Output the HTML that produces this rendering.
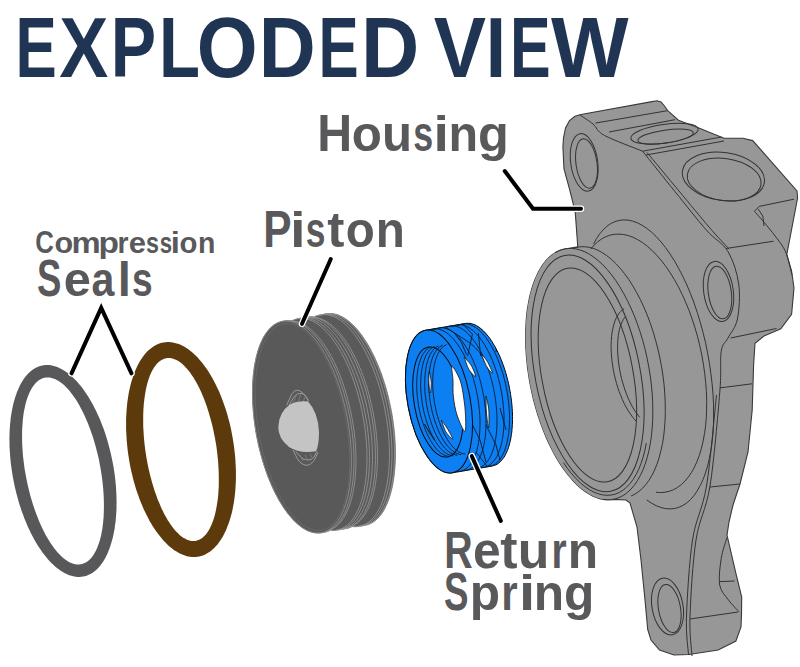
<!DOCTYPE html>
<html><head><meta charset="utf-8">
<style>
html,body{margin:0;padding:0;background:#fff;}
body{width:800px;height:667px;overflow:hidden;}
svg{display:block;}
text{font-family:"Liberation Sans",sans-serif;font-weight:bold;}
</style></head>
<body>
<svg width="800" height="667" viewBox="0 0 800 667">
<rect width="800" height="667" fill="#fff"/>
<text transform="translate(15.56 77.10) scale(0.7249 1.0000)" font-size="85.32" fill="#1f3553">E</text>
<text transform="translate(59.35 77.10) scale(0.8627 1.0000)" font-size="85.32" fill="#1f3553">X</text>
<text transform="translate(110.75 77.10) scale(0.7974 1.0000)" font-size="85.32" fill="#1f3553">P</text>
<text transform="translate(158.92 77.10) scale(0.7856 1.0000)" font-size="85.32" fill="#1f3553">L</text>
<text transform="translate(196.79 77.10) scale(0.9176 1.0000)" font-size="85.32" fill="#1f3553">O</text>
<text transform="translate(258.72 77.10) scale(0.9250 1.0000)" font-size="85.32" fill="#1f3553">D</text>
<text transform="translate(318.47 77.10) scale(0.7061 1.0000)" font-size="85.32" fill="#1f3553">E</text>
<text transform="translate(361.00 77.10) scale(0.9460 1.0000)" font-size="85.32" fill="#1f3553">D</text>
<text transform="translate(433.66 77.10) scale(0.9185 1.0000)" font-size="85.32" fill="#1f3553">V</text>
<text transform="translate(485.72 77.10) scale(0.8544 1.0000)" font-size="85.32" fill="#1f3553">I</text>
<text transform="translate(510.12 77.10) scale(0.7145 1.0000)" font-size="85.32" fill="#1f3553">E</text>
<text transform="translate(550.92 77.10) scale(0.9631 1.0000)" font-size="85.32" fill="#1f3553">W</text>
<text transform="translate(317.37 150.60) scale(0.9336 1.0000)" font-size="51.75" fill="#59595c">H</text>
<text transform="translate(351.83 150.60) scale(0.9523 0.9584)" font-size="51.75" fill="#59595c">o</text>
<text transform="translate(381.95 150.60) scale(0.9504 0.9584)" font-size="51.75" fill="#59595c">u</text>
<text transform="translate(413.34 150.60) scale(0.6925 0.9584)" font-size="51.75" fill="#59595c">s</text>
<text transform="translate(433.43 150.60) scale(1.0705 0.9584)" font-size="51.75" fill="#59595c">i</text>
<text transform="translate(448.61 150.60) scale(0.9364 0.9584)" font-size="51.75" fill="#59595c">n</text>
<text transform="translate(477.93 150.60) scale(0.9760 0.9584)" font-size="51.75" fill="#59595c">g</text>
<text transform="translate(263.16 247.00) scale(0.8105 1.0000)" font-size="52.33" fill="#59595c">P</text>
<text transform="translate(290.18 247.00) scale(1.0446 0.9658)" font-size="52.33" fill="#59595c">i</text>
<text transform="translate(305.75 247.00) scale(0.6769 0.9658)" font-size="52.33" fill="#59595c">s</text>
<text transform="translate(327.27 247.00) scale(0.9847 0.9658)" font-size="52.33" fill="#59595c">t</text>
<text transform="translate(345.74 247.00) scale(0.9076 0.9658)" font-size="52.33" fill="#59595c">o</text>
<text transform="translate(375.86 247.00) scale(0.9102 0.9658)" font-size="52.33" fill="#59595c">n</text>
<text transform="translate(35.19 253.10) scale(0.8364 1.0000)" font-size="30.81" fill="#59595c">C</text>
<text transform="translate(54.40 253.10) scale(0.9930 0.9582)" font-size="30.81" fill="#59595c">o</text>
<text transform="translate(71.59 253.10) scale(1.0658 0.9582)" font-size="30.81" fill="#59595c">m</text>
<text transform="translate(98.39 253.10) scale(1.0884 0.9582)" font-size="30.81" fill="#59595c">p</text>
<text transform="translate(117.54 253.10) scale(0.9164 0.9582)" font-size="30.81" fill="#59595c">r</text>
<text transform="translate(128.79 253.10) scale(1.0080 0.9582)" font-size="30.81" fill="#59595c">e</text>
<text transform="translate(146.08 253.10) scale(0.7573 0.9582)" font-size="30.81" fill="#59595c">s</text>
<text transform="translate(159.82 253.10) scale(0.7201 0.9582)" font-size="30.81" fill="#59595c">s</text>
<text transform="translate(170.71 253.10) scale(1.0643 0.9582)" font-size="30.81" fill="#59595c">i</text>
<text transform="translate(179.45 253.10) scale(0.9534 0.9582)" font-size="30.81" fill="#59595c">o</text>
<text transform="translate(198.12 253.10) scale(0.9240 0.9582)" font-size="30.81" fill="#59595c">n</text>
<text transform="translate(37.05 295.60) scale(0.7044 1.0000)" font-size="51.89" fill="#59595c">S</text>
<text transform="translate(63.85 295.60) scale(0.9398 0.9192)" font-size="51.89" fill="#59595c">e</text>
<text transform="translate(91.40 295.60) scale(0.7915 0.9192)" font-size="51.89" fill="#59595c">a</text>
<text transform="translate(117.69 295.60) scale(0.9130 0.9192)" font-size="51.89" fill="#59595c">l</text>
<text transform="translate(131.90 295.60) scale(0.7147 0.9192)" font-size="51.89" fill="#59595c">s</text>
<text transform="translate(444.37 568.00) scale(0.7654 1.0000)" font-size="51.45" fill="#59595c">R</text>
<text transform="translate(473.06 568.00) scale(0.9659 0.9932)" font-size="51.45" fill="#59595c">e</text>
<text transform="translate(500.37 568.00) scale(1.0077 0.9932)" font-size="51.45" fill="#59595c">t</text>
<text transform="translate(517.79 568.00) scale(1.0061 0.9932)" font-size="51.45" fill="#59595c">u</text>
<text transform="translate(551.43 568.00) scale(0.7569 0.9932)" font-size="51.45" fill="#59595c">r</text>
<text transform="translate(567.72 568.00) scale(0.9659 0.9932)" font-size="51.45" fill="#59595c">n</text>
<text transform="translate(443.94 610.00) scale(0.6903 1.0000)" font-size="53.20" fill="#59595c">S</text>
<text transform="translate(469.73 610.00) scale(0.9326 0.9251)" font-size="53.20" fill="#59595c">p</text>
<text transform="translate(501.22 610.00) scale(0.7931 0.9251)" font-size="53.20" fill="#59595c">r</text>
<text transform="translate(518.93 610.00) scale(1.0960 0.9251)" font-size="53.20" fill="#59595c">i</text>
<text transform="translate(533.72 610.00) scale(0.9342 0.9251)" font-size="53.20" fill="#59595c">n</text>
<text transform="translate(563.96 610.00) scale(0.9344 0.9251)" font-size="53.20" fill="#59595c">g</text>
<path d="M112.5 461.4 L113.2 465.1 L113.8 468.8 L114.4 472.5 L114.9 476.2 L115.3 480 L115.7 483.7 L116 487.3 L116.2 491 L116.4 494.6 L116.5 498.3 L116.6 501.8 L116.5 505.4 L116.5 508.9 L116.3 512.3 L116.1 515.7 L115.8 519.1 L115.5 522.3 L115 525.6 L114.6 528.7 L114 531.8 L113.4 534.8 L112.8 537.7 L112 540.6 L111.2 543.3 L110.4 546 L109.5 548.6 L108.5 551.1 L107.5 553.5 L106.4 555.8 L105.3 557.9 L104.1 560 L102.9 562 L101.6 563.8 L100.3 565.6 L98.9 567.2 L97.5 568.7 L96.1 570.1 L94.6 571.3 L93 572.5 L91.4 573.5 L89.8 574.3 L88.2 575.1 L86.5 575.7 L84.8 576.2 L83.1 576.6 L81.3 576.8 L79.5 577 L77.7 576.9 L75.9 576.8 L74.1 576.5 L72.3 576.1 L70.4 575.5 L68.5 574.9 L66.7 574.1 L64.8 573.2 L62.9 572.1 L61 570.9 L59.1 569.6 L57.3 568.2 L55.4 566.7 L53.6 565 L51.7 563.2 L49.9 561.4 L48.1 559.4 L46.3 557.2 L44.5 555 L42.7 552.7 L41 550.3 L39.3 547.8 L37.6 545.2 L36 542.5 L34.4 539.7 L32.8 536.8 L31.3 533.9 L29.8 530.8 L28.3 527.7 L26.9 524.5 L25.6 521.3 L24.2 518 L23 514.6 L21.7 511.2 L20.6 507.7 L19.4 504.2 L18.4 500.7 L17.4 497.1 L16.4 493.5 L15.5 489.8 L14.7 486.2 L13.9 482.5 L13.2 478.8 L12.5 475 L11.9 471.3 L11.4 467.6 L10.9 463.9 L10.5 460.2 L10.2 456.5 L9.9 452.8 L9.7 449.2 L9.5 445.5 L9.5 442 L9.4 438.4 L9.5 434.9 L9.6 431.4 L9.8 428 L10.1 424.6 L10.4 421.3 L10.7 418 L11.2 414.8 L11.7 411.7 L12.3 408.7 L12.9 405.7 L13.6 402.8 L14.4 400 L15.2 397.3 L16.1 394.7 L17 392.1 L18 389.7 L19 387.4 L20.1 385.1 L21.3 383 L22.5 381 L23.7 379.1 L25 377.3 L26.4 375.6 L27.8 374.1 L29.2 372.6 L30.7 371.3 L32.2 370.1 L33.8 369 L35.4 368.1 L37 367.3 L38.6 366.6 L40.3 366 L42.1 365.6 L43.8 365.3 L45.6 365.1 L47.4 365 L49.2 365.1 L51 365.3 L52.8 365.7 L54.7 366.2 L56.5 366.8 L58.4 367.5 L60.3 368.4 L62.2 369.4 L64 370.5 L65.9 371.7 L67.8 373.1 L69.7 374.5 L71.5 376.1 L73.4 377.9 L75.2 379.7 L77 381.6 L78.8 383.7 L80.6 385.8 L82.4 388.1 L84.1 390.5 L85.8 392.9 L87.5 395.5 L89.2 398.2 L90.8 400.9 L92.4 403.7 L94 406.7 L95.5 409.7 L96.9 412.7 L98.4 415.9 L99.8 419.1 L101.1 422.4 L102.4 425.7 L103.7 429.1 L104.9 432.5 L106 436 L107.1 439.5 L108.1 443.1 L109.1 446.7 L110 450.3 L110.9 454 L111.7 457.7 L112.5 461.4Z M99.7 463.9 L100.3 467.1 L100.9 470.4 L101.4 473.7 L101.9 477 L102.3 480.3 L102.7 483.5 L103 486.8 L103.3 490 L103.5 493.2 L103.7 496.4 L103.8 499.5 L103.9 502.6 L103.9 505.7 L103.9 508.7 L103.8 511.7 L103.7 514.6 L103.6 517.5 L103.3 520.3 L103.1 523.1 L102.7 525.8 L102.4 528.4 L101.9 531 L101.5 533.4 L101 535.8 L100.4 538.2 L99.8 540.4 L99.1 542.6 L98.4 544.6 L97.7 546.6 L96.9 548.5 L96.1 550.3 L95.2 552 L94.3 553.6 L93.4 555.1 L92.4 556.5 L91.4 557.7 L90.3 558.9 L89.2 560 L88.1 560.9 L87 561.8 L85.8 562.5 L84.6 563.1 L83.3 563.6 L82.1 564 L80.8 564.3 L79.5 564.5 L78.2 564.5 L76.8 564.5 L75.5 564.3 L74.1 564 L72.7 563.6 L71.3 563 L69.9 562.4 L68.5 561.7 L67 560.8 L65.6 559.8 L64.2 558.7 L62.7 557.5 L61.3 556.3 L59.9 554.8 L58.4 553.3 L57 551.7 L55.6 550 L54.2 548.2 L52.8 546.3 L51.4 544.3 L50 542.3 L48.7 540.1 L47.3 537.8 L46 535.5 L44.7 533.1 L43.4 530.6 L42.2 528 L41 525.4 L39.8 522.7 L38.6 519.9 L37.5 517.1 L36.4 514.2 L35.3 511.3 L34.2 508.3 L33.2 505.2 L32.3 502.2 L31.3 499 L30.4 495.9 L29.6 492.7 L28.8 489.5 L28 486.3 L27.3 483 L26.6 479.8 L26 476.5 L25.4 473.2 L24.8 469.9 L24.3 466.7 L23.9 463.4 L23.5 460.1 L23.1 456.9 L22.8 453.6 L22.6 450.4 L22.4 447.2 L22.2 444.1 L22.1 440.9 L22.1 437.8 L22.1 434.8 L22.1 431.8 L22.2 428.8 L22.4 425.9 L22.6 423.1 L22.8 420.3 L23.1 417.6 L23.4 414.9 L23.8 412.3 L24.3 409.8 L24.8 407.4 L25.3 405 L25.9 402.7 L26.5 400.5 L27.2 398.4 L27.9 396.4 L28.7 394.4 L29.5 392.6 L30.3 390.9 L31.2 389.2 L32.1 387.7 L33.1 386.2 L34.1 384.9 L35.1 383.7 L36.2 382.5 L37.3 381.5 L38.5 380.6 L39.6 379.8 L40.8 379.2 L42 378.6 L43.3 378.1 L44.6 377.8 L45.8 377.6 L47.2 377.5 L48.5 377.5 L49.8 377.6 L51.2 377.9 L52.6 378.2 L54 378.7 L55.4 379.3 L56.8 380 L58.2 380.8 L59.7 381.7 L61.1 382.7 L62.5 383.8 L64 385.1 L65.4 386.4 L66.9 387.9 L68.3 389.4 L69.7 391.1 L71.1 392.9 L72.5 394.7 L73.9 396.7 L75.3 398.7 L76.7 400.8 L78 403 L79.3 405.3 L80.6 407.7 L81.9 410.2 L83.2 412.7 L84.4 415.3 L85.6 418 L86.8 420.7 L88 423.5 L89.1 426.4 L90.2 429.3 L91.2 432.2 L92.3 435.2 L93.3 438.3 L94.2 441.4 L95.1 444.5 L96 447.7 L96.8 450.9 L97.6 454.1 L98.4 457.3 L99.1 460.6 L99.7 463.9Z" fill="#58585a" fill-rule="evenodd"/>
<path d="M233.2 441.2 L233.8 445 L234.3 448.8 L234.7 452.5 L235.1 456.3 L235.4 460.1 L235.6 463.8 L235.8 467.5 L235.9 471.2 L235.9 474.9 L235.9 478.6 L235.8 482.2 L235.6 485.8 L235.4 489.3 L235.1 492.8 L234.7 496.2 L234.3 499.6 L233.8 502.9 L233.2 506.1 L232.6 509.3 L231.9 512.4 L231.1 515.4 L230.3 518.3 L229.4 521.2 L228.4 524 L227.4 526.6 L226.4 529.2 L225.3 531.7 L224.1 534.1 L222.9 536.4 L221.6 538.5 L220.3 540.6 L218.9 542.5 L217.5 544.4 L216 546.1 L214.5 547.7 L213 549.1 L211.4 550.5 L209.8 551.7 L208.1 552.8 L206.4 553.8 L204.7 554.7 L202.9 555.4 L201.1 556 L199.3 556.4 L197.5 556.7 L195.7 556.9 L193.8 557 L191.9 556.9 L190 556.7 L188.1 556.4 L186.2 555.9 L184.3 555.3 L182.3 554.6 L180.4 553.7 L178.5 552.7 L176.6 551.6 L174.6 550.4 L172.7 549 L170.8 547.5 L168.9 545.9 L167.1 544.2 L165.2 542.3 L163.4 540.4 L161.6 538.3 L159.8 536.1 L158 533.8 L156.3 531.4 L154.6 528.9 L152.9 526.4 L151.3 523.7 L149.6 520.9 L148.1 518 L146.6 515.1 L145.1 512.1 L143.6 508.9 L142.3 505.8 L140.9 502.5 L139.6 499.2 L138.4 495.8 L137.2 492.4 L136 488.9 L135 485.4 L133.9 481.8 L133 478.2 L132.1 474.5 L131.2 470.8 L130.4 467.1 L129.7 463.4 L129.1 459.7 L128.5 455.9 L127.9 452.1 L127.5 448.4 L127.1 444.6 L126.7 440.8 L126.5 437.1 L126.3 433.3 L126.1 429.6 L126.1 425.9 L126.1 422.2 L126.1 418.6 L126.3 415 L126.5 411.5 L126.8 408 L127.1 404.5 L127.5 401.1 L128 397.8 L128.5 394.5 L129.1 391.3 L129.8 388.2 L130.5 385.1 L131.3 382.1 L132.2 379.2 L133.1 376.4 L134 373.7 L135.1 371.1 L136.2 368.5 L137.3 366.1 L138.5 363.8 L139.7 361.5 L141 359.4 L142.4 357.4 L143.8 355.5 L145.2 353.8 L146.7 352.1 L148.2 350.6 L149.8 349.2 L151.4 347.9 L153.1 346.7 L154.7 345.7 L156.4 344.8 L158.2 344 L160 343.3 L161.8 342.8 L163.6 342.4 L165.4 342.2 L167.3 342 L169.1 342 L171 342.2 L172.9 342.4 L174.8 342.9 L176.8 343.4 L178.7 344.1 L180.6 344.8 L182.5 345.8 L184.5 346.8 L186.4 348 L188.3 349.3 L190.2 350.7 L192.1 352.3 L194 354 L195.9 355.7 L197.7 357.6 L199.5 359.7 L201.3 361.8 L203.1 364 L204.9 366.4 L206.6 368.8 L208.3 371.3 L209.9 374 L211.6 376.7 L213.1 379.5 L214.7 382.4 L216.2 385.4 L217.6 388.5 L219.1 391.6 L220.4 394.8 L221.7 398.1 L223 401.5 L224.2 404.9 L225.4 408.3 L226.5 411.8 L227.6 415.4 L228.5 419 L229.5 422.6 L230.4 426.3 L231.2 430 L231.9 433.7 L232.6 437.5 L233.2 441.2Z M216 444 L216.5 447.2 L216.9 450.4 L217.3 453.6 L217.6 456.8 L218 460 L218.2 463.2 L218.4 466.4 L218.6 469.5 L218.7 472.6 L218.8 475.7 L218.8 478.8 L218.8 481.8 L218.8 484.8 L218.7 487.7 L218.5 490.6 L218.3 493.5 L218.1 496.3 L217.8 499 L217.4 501.7 L217 504.3 L216.6 506.8 L216.1 509.3 L215.6 511.7 L215.1 514 L214.5 516.2 L213.8 518.4 L213.2 520.5 L212.4 522.4 L211.7 524.3 L210.9 526.1 L210 527.9 L209.2 529.5 L208.3 531 L207.3 532.4 L206.4 533.7 L205.4 534.9 L204.3 536 L203.3 537 L202.2 537.9 L201.1 538.7 L199.9 539.3 L198.8 539.9 L197.6 540.3 L196.4 540.7 L195.2 540.9 L193.9 541 L192.7 541 L191.4 540.9 L190.1 540.7 L188.8 540.3 L187.5 539.9 L186.2 539.3 L184.9 538.6 L183.6 537.9 L182.2 537 L180.9 536 L179.6 534.9 L178.3 533.6 L176.9 532.3 L175.6 530.9 L174.3 529.4 L173 527.8 L171.7 526.1 L170.4 524.2 L169.2 522.3 L167.9 520.4 L166.7 518.3 L165.4 516.1 L164.2 513.9 L163.1 511.6 L161.9 509.2 L160.8 506.7 L159.7 504.1 L158.6 501.5 L157.5 498.9 L156.5 496.1 L155.5 493.3 L154.5 490.5 L153.6 487.6 L152.7 484.6 L151.8 481.6 L151 478.6 L150.2 475.6 L149.5 472.5 L148.7 469.3 L148.1 466.2 L147.4 463 L146.8 459.8 L146.3 456.6 L145.8 453.4 L145.3 450.2 L144.9 447 L144.5 443.8 L144.2 440.6 L143.9 437.4 L143.7 434.2 L143.5 431.1 L143.3 427.9 L143.2 424.8 L143.2 421.8 L143.2 418.7 L143.2 415.7 L143.3 412.7 L143.4 409.8 L143.6 406.9 L143.8 404.1 L144.1 401.4 L144.4 398.7 L144.8 396 L145.2 393.5 L145.6 390.9 L146.1 388.5 L146.6 386.2 L147.2 383.9 L147.8 381.7 L148.5 379.6 L149.2 377.5 L149.9 375.6 L150.7 373.7 L151.5 372 L152.4 370.3 L153.3 368.8 L154.2 367.3 L155.1 365.9 L156.1 364.7 L157.1 363.5 L158.2 362.5 L159.3 361.5 L160.4 360.7 L161.5 360 L162.6 359.4 L163.8 358.9 L165 358.5 L166.2 358.2 L167.5 358 L168.7 358 L170 358 L171.2 358.2 L172.5 358.5 L173.8 358.9 L175.1 359.4 L176.5 360 L177.8 360.7 L179.1 361.6 L180.4 362.5 L181.8 363.6 L183.1 364.7 L184.4 366 L185.7 367.4 L187 368.8 L188.4 370.4 L189.7 372.1 L190.9 373.8 L192.2 375.7 L193.5 377.6 L194.7 379.7 L196 381.8 L197.2 384 L198.4 386.3 L199.5 388.6 L200.7 391.1 L201.8 393.6 L202.9 396.2 L204 398.8 L205 401.5 L206 404.3 L207 407.1 L207.9 410 L208.9 412.9 L209.7 415.9 L210.6 418.9 L211.4 421.9 L212.2 425 L212.9 428.1 L213.6 431.2 L214.2 434.4 L214.9 437.6 L215.4 440.8 L216 444Z" fill="#5d3a0b" fill-rule="evenodd"/>
<path d="M630 503 L637 527 L641 560 L645 600 L647.7 629.5 L651 640 L659.5 650 L674 655 L689 654.5 L718.2 650 L735.9 641 L741 627 L741.5 615 L741.7 597 L735.9 573.3 L727 535 L729 522 L733 505 L740 484 L748 452 L752.2 410 L753.6 365 L755 343.3 L764 336 L780.8 328.8 L791.6 314.4 L794 288 L791.6 271 L786.8 254.4 L797.6 198 L797 191 L752.7 140.6 L743 138.2 L724 138.2 L697.6 127.4 L678.4 120.2 L668 111 L664.5 106 L661 102 L657 100.8 L652 101.6 L581 114.5 L575 116.2 L569.5 120.5 L565.5 128 L563.5 138 L562.9 146.7 L564 169 L569.6 189.4 L575.2 211.9 L577.8 246.9 L566.3 248.7 L564.4 249 L562.6 249.5 L560.8 250.1 L559 250.8 L557.2 251.6 L555.5 252.5 L553.8 253.6 L552.2 254.8 L550.5 256.1 L549 257.5 L547.4 259.1 L545.9 260.7 L544.5 262.5 L543.1 264.4 L541.7 266.4 L540.4 268.5 L539.1 270.7 L537.9 273 L536.8 275.4 L535.7 277.9 L534.6 280.5 L533.6 283.2 L532.6 286 L531.7 288.8 L530.9 291.8 L530.1 294.8 L529.4 297.9 L528.8 301.1 L528.2 304.4 L527.6 307.7 L527.1 311.1 L526.7 314.6 L526.4 318.1 L526.1 321.7 L525.9 325.4 L525.7 329 L525.6 332.8 L525.6 336.5 L525.6 340.3 L525.7 344.2 L525.8 348 L526.1 351.9 L526.3 355.8 L526.7 359.8 L527.1 363.7 L527.5 367.7 L528.1 371.7 L528.7 375.6 L529.3 379.6 L530 383.6 L530.8 387.5 L531.6 391.4 L532.5 395.4 L533.4 399.3 L534.4 403.1 L535.5 407 L536.6 410.8 L537.7 414.6 L539 418.3 L540.2 422 L541.5 425.6 L542.9 429.2 L544.3 432.8 L545.7 436.3 L547.2 439.7 L548.7 443 L550.3 446.3 L551.9 449.5 L553.6 452.7 L555.2 455.7 L557 458.7 L558.7 461.6 L560.5 464.4 L562.3 467.1 L564.1 469.7 L566 472.2 L567.9 474.7 L569.8 477 L571.7 479.2 L573.6 481.4 L575.6 483.4 L577.6 485.3 L579.5 487.1 L581.5 488.8 L583.5 490.3 L585.5 491.8 L587.5 493.1 L589.6 494.3 L591.6 495.4 L593.6 496.4 L595.6 497.2 L597.6 498 L599.6 498.6 L601.5 499.1 L603.5 499.4 L605.4 499.7 L607.4 499.8 L609.3 499.8 L611.2 499.6 L612.9 499.4 L626 500 L630 503Z" fill="#979797" stroke="#3a3a3a" stroke-width="1.1"/>
<path d="M593.5 244.1 L596.5 238.6 L599.7 233.9 L603.2 229.8 L606.9 226.3 L610.7 223.6 L614.8 221.7 L619.1 220.4 L623.5 219.9 L628 220.1 L632.6 221.1 L637.3 222.8 L642 225.2 L646.8 228.4 L651.6 232.2 L656.3 236.7 L661 241.9 L665.6 247.7 L670.1 254.1 L674.6 261.1 L678.8 268.6 L682.9 276.6 L686.9 285 L690.6 293.9 L694.1 303.1 L697.3 312.6 L700.3 322.4 L703 332.4 L705.5 342.6 L707.6 352.9 L709.4 363.2 L710.9 373.6 L712.1 383.9 L713 394.1 L713.5 404.1 L713.6 414 L713.5 423.6 L713 432.9 L712.1 441.8 L710.9 450.3 L709.4 458.4 L707.6 466 L705.4 473.1 L703 479.7 L700.2 485.6 L697.2 490.9 L694 495.6 L690.5 499.6 L686.8 502.9 L682.8 505.5 L678.7 507.4 L674.5 508.5 L670 508.9 L665.5 508.6 L660.9 507.5 L656.2 505.7 L651.4 503.1 L646.7 499.9" fill="none" fill="none" stroke="#333" stroke-width="1"/>
<path d="M590.8 249 L594.3 245 L597.9 241.6 L601.8 238.8 L605.9 236.7 L610.1 235.1 L614.5 234.3 L619 234.1 L623.6 234.5 L628.3 235.6 L633.1 237.3 L637.8 239.7 L642.6 242.7 L647.4 246.3 L652.1 250.5 L656.8 255.3 L661.4 260.6 L665.8 266.4 L670.2 272.8 L674.4 279.6 L678.4 286.8 L682.2 294.4 L685.7 302.3 L689.1 310.6 L692.2 319.1 L695 327.8 L697.6 336.8 L699.8 345.8 L701.8 355 L703.4 364.2 L704.7 373.4 L705.7 382.5 L706.4 391.5 L706.7 400.4 L706.6 409.1 L706.3 417.6 L705.6 425.8 L704.5 433.7 L703.1 441.2 L701.4 448.4 L699.4 455.1 L697.1 461.3 L694.5 467 L691.6 472.3 L688.5 476.9 L685.1 481 L681.4 484.5 L677.6 487.4 L673.5 489.7 L669.3 491.3 L665 492.2 L660.5 492.6 L655.9 492.2" fill="none" fill="none" stroke="#333" stroke-width="1"/>
<path d="M567.5 251 L571.5 249 L575.6 247.6 L579.8 246.8 L584.1 246.7 L588.6 247.2 L593.1 248.3 L597.6 250.1 L602.2 252.6 L606.7 255.6 L611.3 259.2 L615.7 263.5 L620.2 268.2 L624.5 273.6 L628.7 279.4 L632.7 285.7 L636.6 292.5 L640.4 299.6 L643.9 307.2 L647.2 315 L650.3 323.2 L653.1 331.6 L655.6 340.3 L657.9 349 L659.9 358 L661.6 366.9 L663 376 L664.1 385 L664.8 393.9 L665.2 402.7 L665.3 411.4 L665.1 419.8 L664.5 428.1 L663.7 436 L662.5 443.6 L660.9 450.8 L659.1 457.7 L657 464.1 L654.6 470 L651.9 475.4 L649 480.3 L645.8 484.6 L642.4 488.4 L638.8 491.5 L635 494.1 L631.1 496" fill="none" fill="none" stroke="#333" stroke-width="1"/>
<ellipse cx="589.2" cy="374.1" rx="59.9" ry="127.5" transform="rotate(-11 589.2 374.1)" fill="#979797" stroke="none"/>
<path d="M555 252.8 L558.9 250.8 L563 249.4 L567.2 248.6 L571.5 248.4 L575.9 248.9 L580.4 250.1 L584.9 251.8 L589.4 254.2 L593.9 257.2 L598.4 260.8 L602.9 264.9 L607.3 269.6 L611.6 274.9 L615.8 280.6 L619.8 286.8 L623.7 293.5 L627.4 300.5 L630.9 308 L634.3 315.7 L637.3 323.8 L640.2 332.1 L642.8 340.7 L645.1 349.4 L647.1 358.2 L648.8 367.1 L650.3 376.1 L651.4 385 L652.2 393.9 L652.7 402.7 L652.8 411.3 L652.7 419.8 L652.2 428 L651.4 435.9 L650.3 443.6 L648.9 450.9 L647.1 457.7 L645.1 464.2 L642.8 470.2 L640.2 475.7 L637.4 480.7 L634.3 485.2 L631 489.1 L627.5 492.4 L623.8 495.1 L619.9 497.2 L615.8 498.7 L611.6 499.6 L607.3 499.8 L602.9 499.3" fill="none" fill="none" stroke="#333" stroke-width="1"/>
<path d="M646.3 443.1 L644.9 450.3 L643.1 457.2 L641 463.5 L638.7 469.4 L636 474.7 L633.1 479.5 L630 483.6 L626.6 487.2 L623.1 490.1 L619.3 492.4 L615.3 494.1 L611.3 495 L607.1 495.3 L602.7 494.9 L598.4 493.8 L593.9 492.1 L589.4 489.7 L585 486.7 L580.5 483 L576.1 478.7 L571.8 473.9 L567.5 468.5 L563.4 462.5" fill="none" fill="none" stroke="#333" stroke-width="1"/>
<ellipse cx="587.6" cy="373.4" rx="52.4" ry="120.2" transform="rotate(-11.1 587.6 373.4)" fill="none" stroke="#333" stroke-width="1"/>
<ellipse cx="587.4" cy="375" rx="45.6" ry="108.6" transform="rotate(-10.7 587.4 375)" fill="none" stroke="#333" stroke-width="1"/>
<path d="M635.9 420.9 L633.8 418.6 L631.8 416 L629.8 413.1 L627.8 410.1 L625.9 406.8 L624.1 403.3 L622.4 399.6 L620.8 395.7 L619.2 391.7 L617.8 387.6 L616.5 383.4 L615.4 379.1 L614.3 374.7 L613.4 370.3 L612.7 365.9 L612.1 361.5 L611.6 357.1 L611.3 352.8 L611.1 348.6 L611.1 344.5 L611.3 340.5 L611.6 336.6 L612 332.9 L612.7 329.4 L613.4 326.1 L614.3 323 L615.3 320.1 L616.5 317.5 L617.8 315.2 L619.2 313.1 L620.7 311.4 L622.3 309.9 L624.1 308.7" fill="none" fill="none" stroke="#333" stroke-width="1"/>
<path d="M639.8 417.4 L638 415.2 L636.2 412.8 L634.4 410.1 L632.7 407.3 L631 404.2 L629.4 400.9 L627.8 397.4 L626.4 393.8 L625 390.1 L623.8 386.3 L622.6 382.3 L621.5 378.3 L620.6 374.3 L619.8 370.2 L619.1 366.1 L618.5 362 L618.1 358 L617.8 354 L617.6 350.1 L617.6 346.3 L617.7 342.6 L617.9 339.1 L618.3 335.7 L618.8 332.5 L619.4 329.5 L620.2 326.7 L621.1 324.1 L622.1 321.8 L623.2 319.7 L624.4 317.9 L625.7 316.4" fill="none" fill="none" stroke="#333" stroke-width="1"/>
<ellipse cx="584.2" cy="162.4" rx="13.5" ry="29" transform="rotate(-8 584.2 162.4)" fill="none" stroke="#333" stroke-width="1"/>
<ellipse cx="586.5" cy="163.5" rx="10.5" ry="25" transform="rotate(-8 586.5 163.5)" fill="none" stroke="#333" stroke-width="1"/>
<path d="M579.7 114.8 C581.9 116.3 588.9 120.6 593 124 C597.1 127.4 596.1 130.9 604.4 135.4 C612.7 139.9 636.2 148.6 642.6 151.2" fill="none" stroke="#333" stroke-width="1"/>
<path d="M595.4 123.1 L667.4 110.7" fill="none" stroke="#333" stroke-width="1"/>
<path d="M609 132 L675 119.7" fill="none" stroke="#333" stroke-width="1"/>
<ellipse cx="664.5" cy="133.7" rx="34" ry="9.3" transform="rotate(-8 664.5 133.7)" fill="none" stroke="#333" stroke-width="1"/>
<ellipse cx="665.6" cy="136.6" rx="28" ry="6.5" transform="rotate(-8 665.6 136.6)" fill="none" stroke="#333" stroke-width="1"/>
<path d="M642.6 151.2 L721.6 137" fill="none" stroke="#333" stroke-width="1"/>
<path d="M646 155 L724 141" fill="none" stroke="#333" stroke-width="1"/>
<path d="M642.6 151.2 C648 157.9 664.4 178.5 675 191.6 C685.6 204.7 697.5 220 706.3 230 C715.1 240 722.6 242.6 728 251.6 C733.4 260.6 737.1 272.8 738.7 284 C740.3 295.2 739.2 310 737.4 319 C735.6 328 730.7 332.6 728 338 C725.3 343.4 722.6 342.4 721.2 351.4 C719.8 360.4 721.7 369.6 719.8 392 C717.9 414.4 714 461.3 710 486 C706 510.7 699.3 518.3 696 540 C692.7 561.7 690.7 596.7 690 616 C689.3 635.3 691.7 649.3 692 656" fill="none" stroke="#333" stroke-width="1"/>
<path d="M647 152.5 C652.3 158.9 668.7 178.6 679 191 C689.3 203.4 700.7 217.3 709 227 C717.3 236.7 725.7 245.3 729 249" fill="none" stroke="#333" stroke-width="1"/>
<ellipse cx="723.4" cy="176.6" rx="41.4" ry="24" transform="rotate(8 723.4 176.6)" fill="none" stroke="#333" stroke-width="1"/>
<ellipse cx="724.2" cy="179.5" rx="37.2" ry="21" transform="rotate(8 724.2 179.5)" fill="none" stroke="#333" stroke-width="1"/>
<path d="M726 248.5 L773.6 241.2" fill="none" stroke="#333" stroke-width="1"/>
<path d="M754.4 211.2 L759.2 206.4 L794 199.2" fill="none" stroke="#333" stroke-width="1"/>
<path d="M754.4 211.2 C756.8 214 764 222 768.8 228 C773.6 234 780 242 783.2 247.2 C786.4 252.4 786.5 254.6 788 259.2 C789.5 263.8 791.3 272.4 792 275" fill="none" stroke="#333" stroke-width="1"/>
<path d="M758 208.8 L762.8 216 L764 226" fill="none" stroke="#333" stroke-width="1"/>
<ellipse cx="718.5" cy="291.4" rx="14.8" ry="30.3" transform="rotate(-8 718.5 291.4)" fill="none" stroke="#333" stroke-width="1"/>
<ellipse cx="719.8" cy="292.5" rx="11.5" ry="26.5" transform="rotate(-8 719.8 292.5)" fill="none" stroke="#333" stroke-width="1"/>
<path d="M730.6 338 L776.5 328.5" fill="none" stroke="#333" stroke-width="1"/>
<path d="M719.8 387.9 L752 383.8" fill="none" stroke="#333" stroke-width="1"/>
<path d="M710 487 L740 484" fill="none" stroke="#333" stroke-width="1"/>
<path d="M690 619 L738 612" fill="none" stroke="#333" stroke-width="1"/>
<ellipse cx="667.5" cy="606.5" rx="15.5" ry="28.7" transform="rotate(-10 667.5 606.5)" fill="none" stroke="#333" stroke-width="1"/>
<ellipse cx="669.5" cy="608.5" rx="11" ry="24.4" transform="rotate(-10 669.5 608.5)" fill="none" stroke="#333" stroke-width="1"/>
<path d="M727 537.5 C726 541 722.4 550.7 721.2 558.6 C720 566.5 718.5 578.1 719.7 585 C720.9 591.9 725.3 595.5 728.5 600 C731.7 604.5 737.2 609.8 739 611.7" fill="none" stroke="#333" stroke-width="1"/>
<path d="M719.7 581.6 L734.5 581" fill="none" stroke="#333" stroke-width="1"/>
<path d="M716.5 395 C714.8 410.2 710.5 461.8 706.5 486 C702.5 510.2 695.8 518.3 692.5 540 C689.2 561.7 687.2 596.8 686.5 616 C685.8 635.2 688.2 648.5 688.5 655" fill="none" stroke="#333" stroke-width="1"/>
<path d="M280.2 321.8 L278.5 322.5 L276.8 323.2 L275.1 324.2 L273.5 325.3 L271.9 326.6 L270.4 328 L268.9 329.6 L267.5 331.3 L266.1 333.2 L264.8 335.2 L263.5 337.4 L262.3 339.7 L261.2 342.1 L260.1 344.7 L259.1 347.4 L258.2 350.2 L257.3 353.2 L256.5 356.2 L255.8 359.4 L255.1 362.7 L254.5 366.1 L254 369.6 L253.6 373.1 L253.2 376.8 L252.9 380.5 L252.7 384.3 L252.6 388.2 L252.5 392.1 L252.6 396.1 L252.7 400.1 L252.8 404.2 L253.1 408.3 L253.4 412.4 L253.8 416.6 L254.3 420.8 L254.9 425 L255.5 429.1 L256.2 433.3 L257 437.5 L257.8 441.7 L258.7 445.8 L259.7 449.9 L260.8 454 L261.9 458 L263 462 L264.3 465.9 L265.6 469.8 L266.9 473.6 L268.3 477.3 L269.8 481 L271.3 484.5 L272.8 488 L274.4 491.4 L276.1 494.7 L277.8 497.8 L279.5 500.9 L281.3 503.8 L283.1 506.7 L284.9 509.4 L286.7 511.9 L288.6 514.4 L290.5 516.7 L292.4 518.9 L294.3 520.9 L296.3 522.7 L298.2 524.5 L300.1 526 L302.1 527.5 L304.1 528.7 L306 529.8 L308 530.8 L309.9 531.6 L311.8 532.2 L313.7 532.6 L315.6 532.9 L317.5 533 L319.3 533 L321.1 532.8 L324.1 532.3 L325.9 531.9 L327.7 531.4 L329.4 530.7 L330.4 530.2 L331.1 530.3 L333 530.4 L334.8 530.4 L336.6 530.1 L346.1 528.5 L347.9 528.2 L349.7 527.6 L351.4 526.9 L352.1 526.5 L352.6 526.6 L354.5 526.7 L356.3 526.7 L358.1 526.5 L365.1 525.3 L366.9 524.9 L368.7 524.4 L370.4 523.7 L372.1 522.8 L373.7 521.8 L375.3 520.6 L376.9 519.3 L378.4 517.8 L379.8 516.1 L381.2 514.3 L382.6 512.4 L383.9 510.3 L385.1 508 L386.3 505.6 L387.4 503.1 L388.4 500.5 L389.4 497.7 L390.3 494.8 L391.1 491.8 L391.9 488.7 L392.6 485.5 L393.2 482.1 L393.7 478.7 L394.2 475.2 L394.6 471.6 L394.9 467.9 L395.2 464.1 L395.4 460.3 L395.5 456.4 L395.5 452.4 L395.4 448.4 L395.3 444.4 L395 440.3 L394.8 436.2 L394.4 432 L393.9 427.8 L393.4 423.7 L392.8 419.5 L392.2 415.3 L391.4 411.1 L390.6 406.9 L389.7 402.8 L388.8 398.7 L387.8 394.6 L386.7 390.5 L385.6 386.5 L384.3 382.6 L383.1 378.7 L381.8 374.8 L380.4 371.1 L379 367.4 L377.5 363.8 L375.9 360.2 L374.4 356.8 L372.7 353.5 L371.1 350.3 L369.4 347.1 L367.6 344.1 L365.8 341.3 L364 338.5 L362.2 335.8 L360.3 333.3 L358.5 331 L356.6 328.7 L354.6 326.6 L352.7 324.7 L350.8 322.9 L348.8 321.2 L346.9 319.7 L344.9 318.4 L343 317.2 L341 316.2 L339.1 315.3 L337.1 314.6 L335.2 314.1 L333.3 313.7 L331.5 313.5 L329.6 313.5 L327.8 313.6 L326 313.9 L319 315.1 L317.2 315.6 L315.5 316.2 L313.9 316.9 L312.5 316.8 L310.6 316.7 L308.8 316.8 L307 317.1 L297.5 318.8 L295.7 319.2 L294 319.8 L292.3 320.6 L292.1 320.7 L290.5 320.5 L288.6 320.5 L286.8 320.6 L285 320.9 L282 321.4 L280.2 321.8Z" fill="#5a5a5a" stroke="#7a7a7a" stroke-width="0.8"/>
<path d="M277.3 323.9 L280.3 322.3 L283.5 321.2 L286.7 320.6 L290 320.6 L293.4 321.1 L296.9 322.1 L300.4 323.7 L303.9 325.8 L307.4 328.4 L310.9 331.5 L314.4 335.1 L317.8 339.1 L321.2 343.6 L324.5 348.5 L327.6 353.8 L330.7 359.5 L333.6 365.5 L336.4 371.8 L339 378.4 L341.4 385.3 L343.7 392.3 L345.7 399.6 L347.6 406.9 L349.2 414.4 L350.6 421.9 L351.8 429.5 L352.7 437 L353.4 444.5 L353.8 451.9 L354 459.2 L353.9 466.3 L353.6 473.2 L353 479.8 L352.2 486.2 L351.1 492.3 L349.8 498.1 L348.3 503.4 L346.6 508.5 L344.6 513 L342.4 517.2 L340.1 520.9 L337.5 524.1 L334.8 526.8 L332 529 L329 530.7 L325.9 531.9 L322.6 532.5 L319.3 532.6 L315.9 532.1" fill="none" stroke="#929292" stroke-width="0.9"/>
<path d="M288.1 321.3 L291.3 321 L294.6 321.2 L298 322 L301.4 323.3 L304.8 325.1 L308.3 327.4 L311.8 330.2 L315.2 333.5 L318.6 337.3 L321.9 341.5 L325.2 346.2 L328.4 351.3 L331.4 356.7 L334.4 362.5 L337.2 368.7 L339.9 375.1 L342.4 381.8 L344.7 388.7 L346.8 395.8 L348.7 403 L350.4 410.4 L351.9 417.8 L353.2 425.3 L354.3 432.8 L355.1 440.3 L355.6 447.7 L355.9 454.9 L356 462.1 L355.8 469 L355.4 475.7 L354.7 482.2 L353.8 488.4 L352.6 494.3 L351.3 499.8 L349.7 505 L347.9 509.7 L345.8 514 L343.6 517.9 L341.2 521.3 L338.6 524.2 L335.9 526.6 L333 528.5 L330 529.9 L326.9 530.8" fill="none" stroke="#929292" stroke-width="0.9"/>
<path d="M296.3 319 L299.6 318.4 L302.9 318.4 L306.3 318.9 L309.8 319.9 L313.3 321.4 L316.8 323.5 L320.3 326.1 L323.9 329.2 L327.3 332.8 L330.8 336.8 L334.1 341.3 L337.4 346.2 L340.6 351.5 L343.7 357.2 L346.6 363.2 L349.4 369.5 L352 376.2 L354.4 383 L356.7 390.1 L358.7 397.3 L360.6 404.7 L362.2 412.2 L363.6 419.7 L364.8 427.3 L365.7 434.8 L366.4 442.3 L366.8 449.7 L367 457 L366.9 464.1 L366.6 471 L366 477.7 L365.2 484.1 L364.1 490.2 L362.8 496 L361.3 501.4 L359.5 506.4 L357.5 510.9 L355.4 515.1 L353 518.8 L350.5 522 L347.7 524.7 L344.9 526.9 L341.9 528.5 L338.7 529.7 L335.5 530.3" fill="none" stroke="#929292" stroke-width="0.9"/>
<path d="M298.8 318.6 L302.1 318 L305.4 317.9 L308.8 318.4 L312.3 319.5 L315.8 321 L319.3 323.1 L322.8 325.7 L326.4 328.8 L329.8 332.3 L333.3 336.4 L336.6 340.9 L339.9 345.8 L343.1 351.1 L346.2 356.8 L349.1 362.8 L351.9 369.1 L354.5 375.7 L356.9 382.6 L359.2 389.7 L361.2 396.9 L363.1 404.3 L364.7 411.8 L366.1 419.3 L367.3 426.9 L368.2 434.4 L368.9 441.9 L369.3 449.3 L369.5 456.6 L369.4 463.7 L369.1 470.6 L368.5 477.3 L367.7 483.7 L366.6 489.8 L365.3 495.5 L363.8 500.9 L362 505.9 L360 510.5 L357.9 514.7 L355.5 518.3 L353 521.5 L350.2 524.3 L347.4 526.4 L344.4 528.1 L341.2 529.3 L338 529.9" fill="none" stroke="#929292" stroke-width="0.9"/>
<path d="M299.5 318.9 L302.7 317.9 L306 317.4 L309.4 317.5 L312.9 318.2 L316.4 319.4 L319.9 321.1 L323.5 323.4 L327.1 326.2 L330.6 329.5 L334.1 333.3 L337.6 337.5 L340.9 342.2 L344.2 347.3 L347.4 352.9 L350.4 358.7 L353.3 365 L356 371.5 L358.6 378.3 L361 385.3 L363.2 392.5 L365.1 399.9 L366.9 407.4 L368.4 415 L369.7 422.6 L370.8 430.3 L371.6 437.9 L372.1 445.4 L372.4 452.8 L372.5 460.1 L372.2 467.2 L371.8 474 L371 480.6 L370.1 486.9 L368.8 492.8 L367.4 498.4 L365.7 503.6 L363.8 508.4 L361.6 512.8 L359.3 516.6 L356.8 520 L354.1 522.9 L351.3 525.3 L348.3 527.2 L345.1 528.5 L341.9 529.2 L338.6 529.5" fill="none" stroke="#929292" stroke-width="0.9"/>
<path d="M302.5 318.4 L305.7 317.4 L309 316.9 L312.4 317 L315.9 317.7 L319.4 318.9 L322.9 320.6 L326.5 322.9 L330.1 325.7 L333.6 329 L337.1 332.8 L340.6 337 L343.9 341.7 L347.2 346.8 L350.4 352.3 L353.4 358.2 L356.3 364.4 L359 371 L361.6 377.8 L364 384.8 L366.2 392 L368.1 399.4 L369.9 406.9 L371.4 414.5 L372.7 422.1 L373.8 429.8 L374.6 437.4 L375.1 444.9 L375.4 452.3 L375.5 459.6 L375.2 466.7 L374.8 473.5 L374 480.1 L373.1 486.4 L371.8 492.3 L370.4 497.9 L368.7 503.1 L366.8 507.9 L364.6 512.3 L362.3 516.1 L359.8 519.5 L357.1 522.4 L354.3 524.8 L351.3 526.7 L348.1 528 L344.9 528.7 L341.6 529" fill="none" stroke="#929292" stroke-width="0.9"/>
<path d="M309.6 317.7 L312.8 317.4 L316.1 317.6 L319.5 318.3 L322.9 319.6 L326.3 321.4 L329.8 323.7 L333.3 326.6 L336.7 329.9 L340.1 333.6 L343.4 337.9 L346.7 342.5 L349.9 347.6 L352.9 353.1 L355.9 358.9 L358.7 365 L361.4 371.4 L363.9 378.1 L366.2 385 L368.3 392.1 L370.2 399.4 L371.9 406.7 L373.4 414.2 L374.7 421.7 L375.8 429.2 L376.6 436.6 L377.1 444 L377.4 451.3 L377.5 458.4 L377.3 465.4 L376.9 472.1 L376.2 478.6 L375.3 484.8 L374.1 490.6 L372.8 496.2 L371.2 501.3 L369.4 506 L367.3 510.4 L365.1 514.2 L362.7 517.6 L360.1 520.6 L357.4 523 L354.5 524.9 L351.5 526.3 L348.4 527.1" fill="none" stroke="#929292" stroke-width="0.9"/>
<path d="M316.5 316 L319.7 315 L323 314.5 L326.4 314.6 L329.9 315.3 L333.4 316.5 L336.9 318.2 L340.5 320.5 L344.1 323.3 L347.6 326.6 L351.1 330.4 L354.6 334.6 L357.9 339.3 L361.2 344.4 L364.4 350 L367.4 355.8 L370.3 362.1 L373 368.6 L375.6 375.4 L378 382.4 L380.2 389.6 L382.1 397 L383.9 404.5 L385.4 412.1 L386.7 419.8 L387.8 427.4 L388.6 435 L389.1 442.5 L389.4 449.9 L389.5 457.2 L389.2 464.3 L388.8 471.1 L388 477.7 L387.1 484 L385.8 489.9 L384.4 495.5 L382.7 500.7 L380.8 505.5 L378.6 509.9 L376.3 513.8 L373.8 517.2 L371.1 520 L368.3 522.4 L365.3 524.3 L362.1 525.6 L358.9 526.4 L355.6 526.6" fill="none" stroke="#929292" stroke-width="0.9"/>
<path d="M319 315.6 L322.2 314.6 L325.5 314.1 L328.9 314.2 L332.4 314.9 L335.9 316.1 L339.4 317.8 L343 320.1 L346.6 322.9 L350.1 326.2 L353.6 329.9 L357.1 334.2 L360.4 338.9 L363.7 344 L366.9 349.5 L369.9 355.4 L372.8 361.6 L375.5 368.2 L378.1 375 L380.5 382 L382.7 389.2 L384.6 396.6 L386.4 404.1 L387.9 411.7 L389.2 419.3 L390.3 427 L391.1 434.6 L391.6 442.1 L391.9 449.5 L392 456.8 L391.7 463.8 L391.3 470.7 L390.5 477.3 L389.6 483.6 L388.3 489.5 L386.9 495.1 L385.2 500.3 L383.3 505.1 L381.1 509.4 L378.8 513.3 L376.3 516.7 L373.6 519.6 L370.8 522 L367.8 523.9 L364.6 525.2 L361.4 525.9 L358.1 526.1" fill="none" stroke="#929292" stroke-width="0.9"/>
<path d="M321.5 315.1 L324.7 314.1 L328 313.7 L331.4 313.8 L334.9 314.4 L338.4 315.6 L341.9 317.4 L345.5 319.7 L349.1 322.4 L352.6 325.7 L356.1 329.5 L359.6 333.8 L362.9 338.5 L366.2 343.6 L369.4 349.1 L372.4 355 L375.3 361.2 L378 367.7 L380.6 374.5 L383 381.6 L385.2 388.8 L387.1 396.2 L388.9 403.7 L390.4 411.3 L391.7 418.9 L392.8 426.5 L393.6 434.1 L394.1 441.7 L394.4 449.1 L394.5 456.4 L394.2 463.4 L393.8 470.3 L393 476.8 L392.1 483.1 L390.8 489.1 L389.4 494.7 L387.7 499.9 L385.8 504.7 L383.6 509 L381.3 512.9 L378.8 516.3 L376.1 519.2 L373.3 521.6 L370.3 523.4 L367.1 524.7 L363.9 525.5 L360.6 525.7" fill="none" stroke="#929292" stroke-width="0.9"/>
<ellipse cx="302" cy="427" rx="46.2" ry="107.5" transform="rotate(-10.5 302 427)" fill="#595959" stroke="#8a8a8a" stroke-width="0.9"/>
<ellipse cx="302.5" cy="427" rx="44" ry="105" transform="rotate(-10.5 302.5 427)" fill="none" stroke="#6a6a6a" stroke-width="0.8"/>
<path d="M286.6 405.4 C287.7 403.3 290.8 395.1 292.9 392.6 C295 390.2 297 389.9 299.3 390.7 C301.6 391.5 305.4 395.9 306.9 397.7 C308.4 399.5 308 401 308.2 401.6" fill="none" stroke="#9c9c9c" stroke-width="1"/>
<path d="M289.1 405.4 C290.2 403.7 293.2 397.1 295.5 395.2 C297.8 393.3 301 393 303.1 393.9 C305.2 394.8 307.4 399.2 308.2 400.3" fill="none" stroke="#9c9c9c" stroke-width="1"/>
<path d="M292.9 450 C294 451.9 297 458.8 299.3 461.4 C301.6 463.9 304.6 465.3 306.9 465.3 C309.2 465.3 311.5 463.5 313.3 461.4 C315.1 459.3 317.1 454 317.8 452.5" fill="none" stroke="#9c9c9c" stroke-width="1"/>
<path d="M295.5 451.2 C296.8 452.5 300.4 457.6 303.1 458.9 C305.9 460.2 309.7 460.2 312 458.9 C314.3 457.6 316.2 452.5 317.1 451.2" fill="none" stroke="#9c9c9c" stroke-width="1"/>
<path d="M297 394 L293 403" fill="none" stroke="#808080" stroke-width="0.9"/>
<path d="M301 394 L298 402" fill="none" stroke="#808080" stroke-width="0.9"/>
<path d="M305 397 L303 402" fill="none" stroke="#808080" stroke-width="0.9"/>
<path d="M300 455 L303 461" fill="none" stroke="#808080" stroke-width="0.9"/>
<path d="M305 455 L308 461" fill="none" stroke="#808080" stroke-width="0.9"/>
<path d="M310 454 L313 459" fill="none" stroke="#808080" stroke-width="0.9"/>
<path d="M308 401.6 Q318 412 319 432 Q319 445 316 451.3 Q300 454 289 447 Q278 438 278.3 427 Q279 412 290 404.5 Q298 400.5 308 401.6Z" fill="#c4c4c4"/>
<path d="M467.6 323.3 L466.3 323.3 L465.1 323.5 L425.1 330.3 L423.9 330.7 L422.7 331.1 L421.6 331.6 L420.5 332.3 L419.4 333 L418.3 333.9 L417.3 334.8 L416.3 335.9 L415.4 337.1 L414.4 338.4 L413.6 339.7 L412.7 341.2 L411.9 342.7 L411.2 344.4 L410.4 346.1 L409.8 348 L409.1 349.9 L408.6 351.9 L408 353.9 L407.5 356.1 L407.1 358.3 L406.7 360.6 L406.4 362.9 L406.1 365.3 L405.9 367.8 L405.7 370.3 L405.6 372.9 L405.5 375.5 L405.5 378.1 L405.5 380.8 L405.6 383.5 L405.7 386.3 L405.9 389.1 L406.1 391.9 L406.4 394.7 L406.8 397.5 L407.2 400.3 L407.6 403.1 L408.1 405.9 L408.6 408.8 L409.2 411.6 L409.8 414.3 L410.5 417.1 L411.2 419.9 L412 422.6 L412.8 425.2 L413.7 427.9 L414.5 430.5 L415.5 433.1 L416.4 435.6 L417.4 438 L418.5 440.4 L419.5 442.7 L420.6 445 L421.7 447.2 L422.9 449.4 L424.1 451.4 L425.3 453.4 L426.5 455.3 L427.7 457.1 L429 458.8 L430.2 460.5 L431.5 462 L432.8 463.5 L434.1 464.8 L435.4 466.1 L436.8 467.3 L438.1 468.3 L439.4 469.3 L440.7 470.1 L442.1 470.8 L443.4 471.5 L444.7 472 L446 472.4 L447.3 472.7 L448.5 472.9 L449.8 473 L451.1 472.9 L452.3 472.8 L492.3 466 L493.5 465.7 L494.7 465.3 L495.8 464.9 L497 464.3 L498.1 463.6 L499.1 462.8 L500.2 461.9 L501.2 460.8 L502.2 459.7 L503.1 458.5 L504 457.2 L504.9 455.8 L505.7 454.2 L506.5 452.6 L507.2 450.9 L507.9 449.2 L508.6 447.3 L509.2 445.3 L509.7 443.3 L510.2 441.2 L510.7 439 L511.1 436.8 L511.4 434.4 L511.8 432.1 L512 429.6 L512.2 427.1 L512.4 424.6 L512.5 422 L512.5 419.4 L512.5 416.7 L512.5 414 L512.4 411.3 L512.2 408.5 L512 405.7 L511.7 402.9 L511.4 400.1 L511 397.3 L510.6 394.5 L510.2 391.7 L509.6 388.9 L509.1 386 L508.5 383.2 L507.8 380.5 L507.1 377.7 L506.4 375 L505.6 372.3 L504.8 369.6 L503.9 367 L503 364.4 L502.1 361.9 L501.1 359.4 L500.1 357 L499 354.6 L497.9 352.3 L496.8 350.1 L495.7 347.9 L494.5 345.8 L493.3 343.8 L492.1 341.8 L490.9 340 L489.7 338.2 L488.4 336.5 L487.1 334.9 L485.8 333.4 L484.5 332 L483.2 330.7 L481.9 329.5 L480.6 328.4 L479.3 327.4 L477.9 326.5 L476.6 325.7 L475.3 325 L474 324.5 L472.7 324 L471.4 323.6 L470.1 323.4 L468.8 323.3 L467.6 323.3Z" fill="#0c7ff2" stroke="#0a0a0a" stroke-width="1"/>
<path d="M427.8 331.1 L429.9 330 L432 329.2 L434.2 328.8 L436.5 328.8 L438.9 329.2 L441.2 329.9 L443.7 331 L446.1 332.5 L448.5 334.3 L450.9 336.4 L453.3 338.9 L455.7 341.8 L458 344.9 L460.2 348.3 L462.4 352 L464.5 355.9 L466.5 360.1 L468.4 364.5 L470.2 369.1 L471.8 373.8 L473.4 378.7 L474.7 383.6 L476 388.7 L477 393.8 L478 399 L478.7 404.2 L479.3 409.3 L479.7 414.4 L480 419.5 L480 424.4 L479.9 429.2 L479.6 433.9 L479.2 438.3 L478.5 442.6 L477.7 446.7 L476.8 450.5 L475.6 454 L474.4 457.3 L473 460.2 L471.4 462.9 L469.7 465.2 L467.9 467.2 L466 468.8 L463.9 470.1 L461.8 471 L459.6 471.5 L457.4 471.7" fill="none" stroke="#0a1a30" stroke-width="0.9"/>
<path d="M433.8 330.1 L435.9 329 L438 328.2 L440.2 327.8 L442.5 327.8 L444.9 328.1 L447.2 328.9 L449.7 330 L452.1 331.4 L454.5 333.3 L456.9 335.4 L459.3 337.9 L461.7 340.7 L464 343.9 L466.2 347.3 L468.4 351 L470.5 354.9 L472.5 359.1 L474.4 363.5 L476.2 368 L477.8 372.8 L479.4 377.6 L480.7 382.6 L482 387.7 L483 392.8 L484 398 L484.7 403.2 L485.3 408.3 L485.7 413.4 L486 418.5 L486 423.4 L485.9 428.2 L485.6 432.8 L485.2 437.3 L484.5 441.6 L483.7 445.6 L482.8 449.4 L481.6 453 L480.4 456.2 L479 459.2 L477.4 461.9 L475.7 464.2 L473.9 466.2 L472 467.8 L469.9 469.1 L467.8 470 L465.6 470.5 L463.4 470.7" fill="none" stroke="#0a1a30" stroke-width="0.9"/>
<path d="M444.8 328.2 L446.9 327.1 L449 326.3 L451.2 325.9 L453.5 325.9 L455.9 326.3 L458.2 327 L460.7 328.1 L463.1 329.6 L465.5 331.4 L467.9 333.6 L470.3 336.1 L472.7 338.9 L475 342 L477.2 345.4 L479.4 349.1 L481.5 353 L483.5 357.2 L485.4 361.6 L487.2 366.2 L488.8 370.9 L490.4 375.8 L491.7 380.8 L493 385.8 L494 391 L495 396.1 L495.7 401.3 L496.3 406.4 L496.7 411.6 L497 416.6 L497 421.5 L496.9 426.3 L496.6 431 L496.2 435.4 L495.5 439.7 L494.7 443.8 L493.8 447.6 L492.6 451.1 L491.4 454.4 L490 457.3 L488.4 460 L486.7 462.3 L484.9 464.3 L483 465.9 L480.9 467.2 L478.8 468.1 L476.6 468.6 L474.4 468.8" fill="none" stroke="#0a1a30" stroke-width="0.9"/>
<path d="M451.8 327 L453.9 325.9 L456 325.1 L458.2 324.7 L460.5 324.7 L462.9 325.1 L465.2 325.8 L467.7 326.9 L470.1 328.4 L472.5 330.2 L474.9 332.4 L477.3 334.9 L479.7 337.7 L482 340.8 L484.2 344.2 L486.4 347.9 L488.5 351.8 L490.5 356 L492.4 360.4 L494.2 365 L495.8 369.7 L497.4 374.6 L498.7 379.6 L500 384.6 L501 389.8 L502 394.9 L502.7 400.1 L503.3 405.3 L503.7 410.4 L504 415.4 L504 420.3 L503.9 425.1 L503.6 429.8 L503.2 434.2 L502.5 438.5 L501.7 442.6 L500.8 446.4 L499.6 449.9 L498.4 453.2 L497 456.2 L495.4 458.8 L493.7 461.1 L491.9 463.1 L490 464.7 L487.9 466 L485.8 466.9 L483.6 467.4 L481.4 467.6" fill="none" stroke="#0a1a30" stroke-width="0.9"/>
<path d="M457.3 326.1 L459.4 325 L461.5 324.2 L463.7 323.8 L466 323.8 L468.4 324.2 L470.7 324.9 L473.2 326 L475.6 327.4 L478 329.3 L480.4 331.4 L482.8 333.9 L485.2 336.7 L487.5 339.9 L489.7 343.3 L491.9 347 L494 350.9 L496 355.1 L497.9 359.5 L499.7 364 L501.3 368.8 L502.9 373.6 L504.2 378.6 L505.5 383.7 L506.5 388.8 L507.5 394 L508.2 399.2 L508.8 404.3 L509.2 409.4 L509.5 414.5 L509.5 419.4 L509.4 424.2 L509.1 428.8 L508.7 433.3 L508 437.6 L507.2 441.6 L506.3 445.4 L505.1 449 L503.9 452.3 L502.5 455.2 L500.9 457.9 L499.2 460.2 L497.4 462.2 L495.5 463.8 L493.4 465.1 L491.3 466 L489.1 466.5 L486.9 466.7" fill="none" stroke="#0a1a30" stroke-width="0.9"/>
<clipPath id="sprclip"><path d="M467.6 323.3 L466.3 323.3 L465.1 323.5 L425.1 330.3 L423.9 330.7 L422.7 331.1 L421.6 331.6 L420.5 332.3 L419.4 333 L418.3 333.9 L417.3 334.8 L416.3 335.9 L415.4 337.1 L414.4 338.4 L413.6 339.7 L412.7 341.2 L411.9 342.7 L411.2 344.4 L410.4 346.1 L409.8 348 L409.1 349.9 L408.6 351.9 L408 353.9 L407.5 356.1 L407.1 358.3 L406.7 360.6 L406.4 362.9 L406.1 365.3 L405.9 367.8 L405.7 370.3 L405.6 372.9 L405.5 375.5 L405.5 378.1 L405.5 380.8 L405.6 383.5 L405.7 386.3 L405.9 389.1 L406.1 391.9 L406.4 394.7 L406.8 397.5 L407.2 400.3 L407.6 403.1 L408.1 405.9 L408.6 408.8 L409.2 411.6 L409.8 414.3 L410.5 417.1 L411.2 419.9 L412 422.6 L412.8 425.2 L413.7 427.9 L414.5 430.5 L415.5 433.1 L416.4 435.6 L417.4 438 L418.5 440.4 L419.5 442.7 L420.6 445 L421.7 447.2 L422.9 449.4 L424.1 451.4 L425.3 453.4 L426.5 455.3 L427.7 457.1 L429 458.8 L430.2 460.5 L431.5 462 L432.8 463.5 L434.1 464.8 L435.4 466.1 L436.8 467.3 L438.1 468.3 L439.4 469.3 L440.7 470.1 L442.1 470.8 L443.4 471.5 L444.7 472 L446 472.4 L447.3 472.7 L448.5 472.9 L449.8 473 L451.1 472.9 L452.3 472.8 L492.3 466 L493.5 465.7 L494.7 465.3 L495.8 464.9 L497 464.3 L498.1 463.6 L499.1 462.8 L500.2 461.9 L501.2 460.8 L502.2 459.7 L503.1 458.5 L504 457.2 L504.9 455.8 L505.7 454.2 L506.5 452.6 L507.2 450.9 L507.9 449.2 L508.6 447.3 L509.2 445.3 L509.7 443.3 L510.2 441.2 L510.7 439 L511.1 436.8 L511.4 434.4 L511.8 432.1 L512 429.6 L512.2 427.1 L512.4 424.6 L512.5 422 L512.5 419.4 L512.5 416.7 L512.5 414 L512.4 411.3 L512.2 408.5 L512 405.7 L511.7 402.9 L511.4 400.1 L511 397.3 L510.6 394.5 L510.2 391.7 L509.6 388.9 L509.1 386 L508.5 383.2 L507.8 380.5 L507.1 377.7 L506.4 375 L505.6 372.3 L504.8 369.6 L503.9 367 L503 364.4 L502.1 361.9 L501.1 359.4 L500.1 357 L499 354.6 L497.9 352.3 L496.8 350.1 L495.7 347.9 L494.5 345.8 L493.3 343.8 L492.1 341.8 L490.9 340 L489.7 338.2 L488.4 336.5 L487.1 334.9 L485.8 333.4 L484.5 332 L483.2 330.7 L481.9 329.5 L480.6 328.4 L479.3 327.4 L477.9 326.5 L476.6 325.7 L475.3 325 L474 324.5 L472.7 324 L471.4 323.6 L470.1 323.4 L468.8 323.3 L467.6 323.3Z"/></clipPath>
<g clip-path="url(#sprclip)">
<path d="M447.2 328.2 L471.2 343.8 L479.6 352.2 L486 364" fill="none" stroke="#0a1a30" stroke-width="0.9"/>
<path d="M462.8 324 L472.4 334.2 L470 345 L467.6 356" fill="none" stroke="#0a1a30" stroke-width="0.9"/>
<path d="M454.4 333 L461.6 342.6 L466.4 354.6" fill="none" stroke="#0a1a30" stroke-width="0.9"/>
<path d="M476 324.6 L490.4 337.8 L500 349.8" fill="none" stroke="#0a1a30" stroke-width="0.9"/>
<path d="M478.4 333 L479.6 346.2 L480.8 356" fill="none" stroke="#0a1a30" stroke-width="0.9"/>
<path d="M492 326 L497 340 L496 352" fill="none" stroke="#0a1a30" stroke-width="0.9"/>
<path d="M470 420 L480 440 L486 462" fill="none" stroke="#0a1a30" stroke-width="0.9"/>
<path d="M486 425 L496 445 L500 460" fill="none" stroke="#0a1a30" stroke-width="0.9"/>
<path d="M476 452 L490 470" fill="none" stroke="#0a1a30" stroke-width="0.9"/>
<path d="M500 408 L506 430" fill="none" stroke="#0a1a30" stroke-width="0.9"/>
</g>
<path d="M464.2 357.5 C465.3 358.8 469.1 361.8 471 365 C472.9 368.2 476 375.9 475.7 376.7 C475.4 377.4 470.9 372.7 469 369.5 C467.1 366.3 465 359.5 464.2 357.5" fill="#fff" stroke="#111" stroke-width="0.8"/>
<path d="M481.2 354 C482.2 355.2 485.1 357.8 487 361 C488.9 364.2 492.5 372 492.5 373 C492.5 374 488.9 370.2 487 367 C485.1 363.8 482.2 356.2 481.2 354" fill="#fff" stroke="#111" stroke-width="0.8"/>
<path d="M486 396 C486.5 398.3 488.4 404.7 488.8 410 C489.2 415.3 489 427.7 488.6 428 C488.2 428.3 486.8 417.3 486.4 412 C486 406.7 486.1 398.7 486 396" fill="#fff" stroke="#111" stroke-width="0.8"/>
<ellipse cx="439" cy="401.5" rx="31.2" ry="72.5" transform="rotate(-10.8 439 401.5)" fill="#0c7ff2" stroke="#0a0a0a" stroke-width="1"/>
<ellipse cx="438" cy="402" rx="23.8" ry="55.7" transform="rotate(-9.8 438 402)" fill="#0c7ff2" stroke="#0a0a0a" stroke-width="1"/>
<path d="M449.4 456.4 L447.6 456.2 L445.8 455.7 L444 455 L442.2 453.9 L440.4 452.6 L438.5 451 L436.7 449.2 L435 447.1 L433.2 444.7 L431.5 442.1 L429.9 439.4 L428.3 436.4 L426.8 433.2 L425.4 429.9 L424.1 426.4 L422.8 422.8 L421.7 419.1 L420.6 415.3 L419.7 411.4 L418.9 407.4 L418.2 403.5 L417.7 399.5 L417.2 395.5 L416.9 391.6 L416.7 387.7 L416.7 383.9 L416.8 380.1 L417 376.5 L417.4 373 L417.9 369.7 L418.5 366.5 L419.2 363.5 L420.1 360.8 L421 358.2 L422.1 355.8 L423.3 353.7 L424.6 351.9 L425.9 350.2 L427.4 348.9 L428.9 347.9 L430.5 347.1" fill="none" stroke="#0a1a30" stroke-width="0.9"/>
<path d="M453.4 455.8 L451.6 455.6 L449.8 455.1 L448 454.4 L446.2 453.3 L444.4 452 L442.5 450.4 L440.7 448.6 L439 446.5 L437.2 444.1 L435.5 441.5 L433.9 438.8 L432.3 435.8 L430.8 432.6 L429.4 429.3 L428.1 425.8 L426.8 422.2 L425.7 418.5 L424.6 414.7 L423.7 410.8 L422.9 406.8 L422.2 402.9 L421.7 398.9 L421.2 394.9 L420.9 391 L420.7 387.1 L420.7 383.3 L420.8 379.5 L421 375.9 L421.4 372.4 L421.9 369.1 L422.5 365.9 L423.2 362.9 L424.1 360.2 L425 357.6 L426.1 355.2 L427.3 353.1 L428.6 351.3 L429.9 349.6 L431.4 348.3 L432.9 347.3 L434.5 346.5" fill="none" stroke="#0a1a30" stroke-width="0.9"/>
<path d="M457.4 455.2 L455.6 455 L453.8 454.5 L452 453.8 L450.2 452.7 L448.4 451.4 L446.5 449.8 L444.7 448 L443 445.9 L441.2 443.5 L439.5 440.9 L437.9 438.2 L436.3 435.2 L434.8 432 L433.4 428.7 L432.1 425.2 L430.8 421.6 L429.7 417.9 L428.6 414.1 L427.7 410.2 L426.9 406.2 L426.2 402.3 L425.7 398.3 L425.2 394.3 L424.9 390.4 L424.7 386.5 L424.7 382.7 L424.8 378.9 L425 375.3 L425.4 371.8 L425.9 368.5 L426.5 365.3 L427.2 362.3 L428.1 359.6 L429 357 L430.1 354.6 L431.3 352.5 L432.6 350.7 L433.9 349 L435.4 347.7 L436.9 346.7 L438.5 345.9" fill="none" stroke="#0a1a30" stroke-width="0.9"/>
<path d="M461.4 454.6 L459.6 454.4 L457.8 453.9 L456 453.2 L454.2 452.1 L452.4 450.8 L450.5 449.2 L448.7 447.4 L447 445.3 L445.2 442.9 L443.5 440.3 L441.9 437.6 L440.3 434.6 L438.8 431.4 L437.4 428.1 L436.1 424.6 L434.8 421 L433.7 417.3 L432.6 413.5 L431.7 409.6 L430.9 405.6 L430.2 401.7 L429.7 397.7 L429.2 393.7 L428.9 389.8 L428.7 385.9 L428.7 382.1 L428.8 378.3 L429 374.7 L429.4 371.2 L429.9 367.9 L430.5 364.7 L431.2 361.7 L432.1 359 L433 356.4 L434.1 354 L435.3 351.9 L436.6 350.1 L437.9 348.4 L439.4 347.1 L440.9 346.1 L442.5 345.3" fill="none" stroke="#0a1a30" stroke-width="0.9"/>
<path d="M465.4 454 L463.6 453.8 L461.8 453.3 L460 452.6 L458.2 451.5 L456.4 450.2 L454.5 448.6 L452.7 446.8 L451 444.7 L449.2 442.3 L447.5 439.7 L445.9 437 L444.3 434 L442.8 430.8 L441.4 427.5 L440.1 424 L438.8 420.4 L437.7 416.7 L436.6 412.9 L435.7 409 L434.9 405 L434.2 401.1 L433.7 397.1 L433.2 393.1 L432.9 389.2 L432.7 385.3 L432.7 381.5 L432.8 377.7 L433 374.1 L433.4 370.6 L433.9 367.3 L434.5 364.1 L435.2 361.1 L436.1 358.4 L437 355.8 L438.1 353.4 L439.3 351.3 L440.6 349.5 L441.9 347.8 L443.4 346.5 L444.9 345.5 L446.5 344.7" fill="none" stroke="#0a1a30" stroke-width="0.9"/>
<path d="M452.1 366.5 C453.3 366.5 458.1 374.9 460 380 C461.9 385.1 462.7 391.2 463.6 397 C464.5 402.8 465.3 409.3 465.5 415 C465.7 420.7 466.2 431.4 464.8 431.4 C463.4 431.4 458.9 420.7 457 415 C455.1 409.3 454.1 402.8 453.4 397 C452.7 391.2 453.2 385.1 453 380 C452.8 374.9 450.9 366.5 452.1 366.5Z" fill="#fff" stroke="#111" stroke-width="0.8"/>
<path d="M429.4 371 C429.7 372.8 431 378.3 431.2 382 C431.4 385.7 430.7 393 430.3 393 C429.9 393 429 385.7 428.8 382 C428.6 378.3 429.3 372.8 429.4 371" fill="#fff" stroke="#111" stroke-width="0.8"/>
<path d="M424.5 424 C425.2 425.3 427.3 429.3 429 432 C430.7 434.7 434.3 439.8 434.5 440 C434.7 440.2 431.7 435.7 430 433 C428.3 430.3 425.4 425.5 424.5 424" fill="#fff" stroke="#111" stroke-width="0.8"/>
<path d="M441.3 420 C442.2 421.3 445.1 424.8 447 428 C448.9 431.2 452.9 438.3 452.7 439 C452.5 439.7 447.9 435.2 446 432 C444.1 428.8 442.1 422 441.3 420" fill="#fff" stroke="#111" stroke-width="0.8"/>
<path d="M71.5 373.3 L101.2 307.8 L131.5 373.3" fill="none" stroke="#fff" stroke-width="6.5" stroke-linecap="round"/><path d="M71.5 373.3 L101.2 307.8 L131.5 373.3" fill="none" stroke="#000" stroke-width="4" stroke-linecap="round"/>
<path d="M330.8 259 L302 323.8" fill="none" stroke="#fff" stroke-width="6.5" stroke-linecap="round"/><path d="M330.8 259 L302 323.8" fill="none" stroke="#000" stroke-width="4" stroke-linecap="round"/>
<path d="M504.75 171 L533 208.75 L581 208.75" fill="none" stroke="#fff" stroke-width="6.5" stroke-linecap="round"/><path d="M504.75 171 L533 208.75 L581 208.75" fill="none" stroke="#000" stroke-width="4" stroke-linecap="round"/>
<path d="M471.8 456.2 L500.8 520.9" fill="none" stroke="#fff" stroke-width="6.5" stroke-linecap="round"/><path d="M471.8 456.2 L500.8 520.9" fill="none" stroke="#000" stroke-width="4" stroke-linecap="round"/>
</svg>
</body></html>
